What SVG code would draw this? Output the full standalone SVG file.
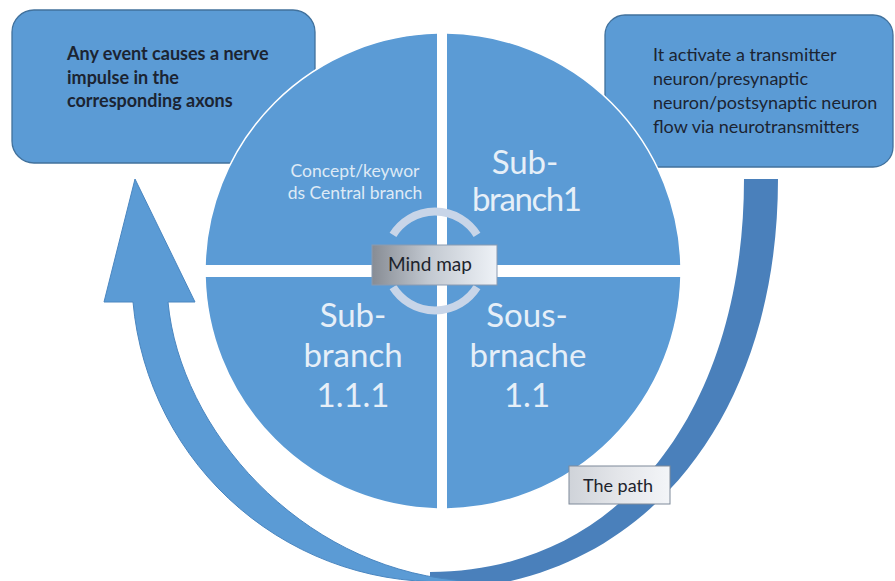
<svg xmlns="http://www.w3.org/2000/svg" width="895" height="581" viewBox="0 0 895 581">
  <defs>
    <style>
      .box { fill: #5b9bd5; stroke: #41719c; stroke-width: 1.3; }
      .quad { fill: #5b9bd5; stroke: #ffffff; stroke-width: 1.5; }
      .boxtxt { font-family: Lato, "Open Sans", sans-serif; fill: #1b2432; }
      .small { font-family: Lato, "Open Sans", sans-serif; font-size: 17.5px; fill: #deeaf6; text-anchor: middle; }
      .big { font-family: Lato, "Open Sans", sans-serif; font-size: 33px; fill: #e6eff8; text-anchor: middle; }
      .ring { fill: none; stroke: #c8d5e8; stroke-width: 8; }
      .lbl { font-family: Lato, "Open Sans", sans-serif; fill: #1d232c; text-anchor: middle; }
    </style>
    <linearGradient id="gMind" x1="0" y1="0" x2="1" y2="0">
      <stop offset="0" stop-color="#878c94"/>
      <stop offset="0.45" stop-color="#c2c8d0"/>
      <stop offset="1" stop-color="#eef2f7"/>
    </linearGradient>
    <linearGradient id="gPath" x1="0" y1="0" x2="1" y2="0">
      <stop offset="0" stop-color="#cfd3d9"/>
      <stop offset="0.5" stop-color="#e4e6ea"/>
      <stop offset="1" stop-color="#f3f5f8"/>
    </linearGradient>
    <clipPath id="cTL"><rect x="0" y="0" width="437" height="265"/></clipPath>
    <clipPath id="cTR"><rect x="447" y="0" width="448" height="265"/></clipPath>
    <clipPath id="cBL"><rect x="0" y="277" width="437" height="304"/></clipPath>
    <clipPath id="cBR"><rect x="447" y="277" width="448" height="304"/></clipPath>
  </defs>

  <g id="box-left">
    <rect class="box" x="12" y="10" width="303" height="153" rx="22"/>
    <text class="boxtxt" font-size="18" font-weight="bold">
      <tspan x="67" y="60">Any event causes a nerve</tspan>
      <tspan x="67" y="83.5">impulse in the</tspan>
      <tspan x="67" y="107">corresponding axons</tspan>
    </text>
  </g>

  <g id="box-right">
    <rect class="box" x="605" y="15" width="288" height="152" rx="20"/>
    <text class="boxtxt" font-size="18">
      <tspan x="653" y="61">It activate a transmitter</tspan>
      <tspan x="653" y="85">neuron/presynaptic</tspan>
      <tspan x="653" y="109">neuron/postsynaptic neuron</tspan>
      <tspan x="653" y="133">flow via neurotransmitters</tspan>
    </text>
  </g>

  <g id="connectors">
    <path id="dark-path" d="M744,179 L778,179 C778,420 640,590 430,590 L430,572 C620,572 744,410 744,179 Z" fill="#4a80bb"/>
    <path id="return-arrow" d="M135,179 L195,302 L168,302 C180,430 300,565 455,580 L460,581 A307,307 0 0 1 133,302 L104,302 Z" fill="#5b9bd5" stroke="#4a86c0" stroke-width="1"/>
  </g>

  <g id="quad-tl">
    <circle class="quad" cx="443" cy="271" r="238" clip-path="url(#cTL)"/>
    <text class="small"><tspan x="355" y="177">Concept/keywor</tspan><tspan x="355" y="199">ds Central branch</tspan></text>
  </g>
  <g id="quad-tr">
    <circle class="quad" cx="443" cy="271" r="238" clip-path="url(#cTR)"/>
    <text class="big" font-size="30.5"><tspan x="525" y="174">Sub-</tspan><tspan x="527" y="211" textLength="110">branch1</tspan></text>
  </g>
  <g id="quad-bl">
    <circle class="quad" cx="443" cy="271" r="238" clip-path="url(#cBL)"/>
    <text class="big"><tspan x="353" y="327">Sub-</tspan><tspan x="353" y="367">branch</tspan><tspan x="353" y="407">1.1.1</tspan></text>
  </g>
  <g id="quad-br">
    <circle class="quad" cx="443" cy="271" r="238" clip-path="url(#cBR)"/>
    <text class="big"><tspan x="527" y="327">Sous-</tspan><tspan x="528" y="367">brnache</tspan><tspan x="527" y="407">1.1</tspan></text>
  </g>

  <g id="mind-map">
    <path class="ring" d="M393,234.8 A49.5,49.5 0 0 1 477,234.8"/>
    <path class="ring" d="M393,287.2 A49.5,49.5 0 0 0 477,287.2"/>
    <rect x="372" y="245" width="125" height="40" fill="url(#gMind)" stroke="#8a9bb2" stroke-width="1"/>
    <text class="lbl" x="430" y="271" font-size="19">Mind map</text>
  </g>

  <g id="the-path">
    <rect x="569" y="466" width="101" height="38" fill="url(#gPath)" stroke="#7e8a9a" stroke-width="1"/>
    <text class="lbl" x="618" y="492" font-size="18">The path</text>
  </g>
</svg>
